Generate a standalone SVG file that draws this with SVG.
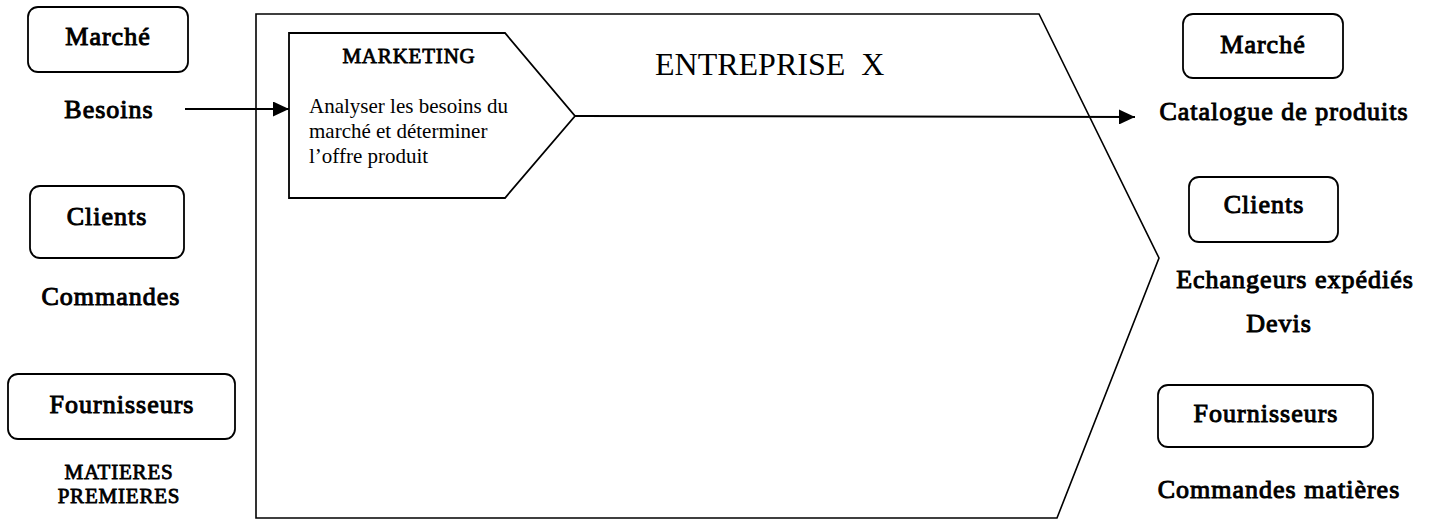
<svg xmlns="http://www.w3.org/2000/svg" width="1432" height="520" viewBox="0 0 1432 520">
  <defs>
    <marker id="arrow" markerWidth="16" markerHeight="15" refX="16" refY="7.5" orient="auto" markerUnits="userSpaceOnUse">
      <path d="M0,0 L16,7.5 L0,15 Z" fill="#000"/>
    </marker>
    <style>
      .box { fill: #fff; stroke: #000; stroke-width: 1.8; }
      .frame { fill: none; stroke: #000; stroke-width: 1.6; }
      /* heavy serif labels: regular face thickened with a thin outline */
      .lbl { font-family: "Liberation Serif", "Times New Roman", serif; font-size: 26px; fill: #000; stroke: #000; stroke-width: 1; letter-spacing: 1px; text-anchor: middle; }
      .small { font-family: "Liberation Serif", "Times New Roman", serif; font-size: 21px; fill: #000; stroke: #000; stroke-width: 0.8; letter-spacing: 0.8px; text-anchor: middle; }
      .body { font-family: "Liberation Serif", "Times New Roman", serif; font-size: 21px; fill: #000; }
      .title { font-family: "Liberation Serif", "Times New Roman", serif; font-size: 32px; fill: #000; }
      .conn { fill: none; stroke: #000; stroke-width: 2; }
    </style>
  </defs>

  <rect width="1432" height="520" fill="#fff"/>

  <!-- Company outline -->
  <g id="entreprise">
    <polygon class="frame" points="256,14 1039,14 1159,258 1057,518 256,518"/>
    <text class="title" x="655" y="75" xml:space="preserve">ENTREPRISE  X</text>
  </g>

  <!-- Marketing process -->
  <g id="marketing">
    <polygon class="box" points="289,33 505,33 575,116 505,198 289,198"/>
    <text class="small" x="409" y="63">MARKETING</text>
    <text class="body" x="309" y="113">Analyser les besoins du</text>
    <text class="body" x="309" y="138">marché et déterminer</text>
    <text class="body" x="309" y="163">l’offre produit</text>
  </g>

  <!-- Inputs (left) -->
  <g id="marche-in">
    <rect class="box" x="28" y="7" width="160" height="65" rx="10"/>
    <text class="lbl" x="108" y="45">Marché</text>
  </g>
  <g id="besoins">
    <text class="lbl" x="109" y="118">Besoins</text>
  </g>
  <g id="clients-in">
    <rect class="box" x="30" y="186" width="154" height="72" rx="10"/>
    <text class="lbl" x="107" y="225">Clients</text>
  </g>
  <g id="commandes">
    <text class="lbl" x="111" y="305">Commandes</text>
  </g>
  <g id="fournisseurs-in">
    <rect class="box" x="8" y="374" width="227" height="65" rx="10"/>
    <text class="lbl" x="122" y="413">Fournisseurs</text>
  </g>
  <g id="matieres">
    <text class="small" x="119" y="479">MATIERES</text>
    <text class="small" x="119" y="503">PREMIERES</text>
  </g>

  <!-- Outputs (right) -->
  <g id="marche-out">
    <rect class="box" x="1183" y="14" width="160" height="64" rx="10"/>
    <text class="lbl" x="1263" y="53">Marché</text>
  </g>
  <g id="catalogue">
    <text class="lbl" x="1284" y="120">Catalogue de produits</text>
  </g>
  <g id="clients-out">
    <rect class="box" x="1189" y="177" width="149" height="65" rx="10"/>
    <text class="lbl" x="1264" y="213">Clients</text>
  </g>
  <g id="echangeurs">
    <text class="lbl" x="1295" y="288">Echangeurs expédiés</text>
  </g>
  <g id="devis">
    <text class="lbl" x="1279" y="332">Devis</text>
  </g>
  <g id="fournisseurs-out">
    <rect class="box" x="1158" y="385" width="215" height="62" rx="10"/>
    <text class="lbl" x="1266" y="422">Fournisseurs</text>
  </g>
  <g id="commandes-matieres">
    <text class="lbl" x="1279" y="498">Commandes matières</text>
  </g>

  <!-- Connectors -->
  <g id="connectors">
    <line class="conn" x1="185" y1="109" x2="289" y2="109" marker-end="url(#arrow)"/>
    <line class="conn" x1="575" y1="116" x2="1135" y2="117" marker-end="url(#arrow)"/>
  </g>
</svg>
